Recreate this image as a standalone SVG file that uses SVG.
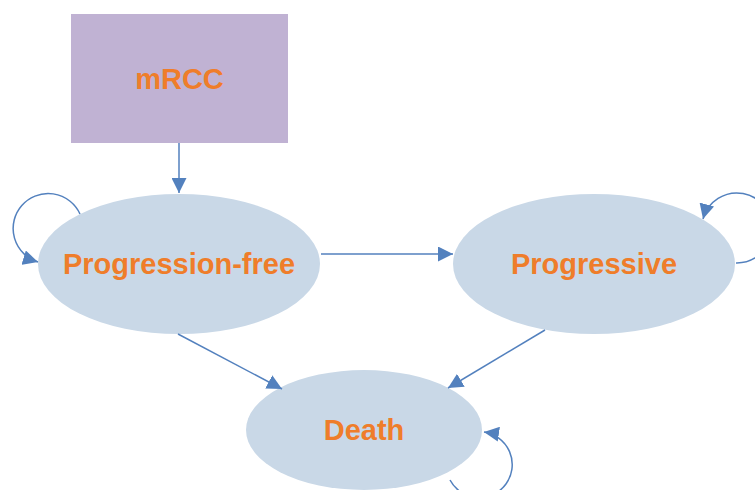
<svg xmlns="http://www.w3.org/2000/svg" width="755" height="490" viewBox="0 0 755 490">
<style>
.node{fill:#c9d8e7}
.lbl{font-family:"Liberation Sans",Arial,sans-serif;font-weight:bold;font-size:29px;fill:#ef7d2a;text-anchor:middle;dominant-baseline:central}
.edge{fill:none;stroke:#5381be;stroke-width:1.5}
</style>
<defs>
<marker id="ah" viewBox="0 0 10 10" refX="10" refY="5" markerWidth="15" markerHeight="15" markerUnits="userSpaceOnUse" orient="auto">
<path d="M0,0 L10,5 L0,10 z" fill="#5381be"/>
</marker>
</defs>
<rect width="755" height="490" fill="#ffffff"/>
<g id="mrcc">
<rect x="71" y="14" width="217" height="129" fill="#c0b2d3"/>
<text class="lbl" x="179.5" y="79">mRCC</text>
</g>
<g id="progression-free">
<ellipse class="node" cx="179" cy="264" rx="141" ry="70"/>
<text class="lbl" x="179" y="264">Progression-free</text>
</g>
<g id="progressive">
<ellipse class="node" cx="594" cy="264" rx="141" ry="70"/>
<text class="lbl" x="594" y="264">Progressive</text>
</g>
<g id="death">
<ellipse class="node" cx="364" cy="430" rx="118" ry="60"/>
<text class="lbl" x="364" y="430">Death</text>
</g>
<g id="connectors">
<line class="edge" x1="179" y1="143" x2="179" y2="193" marker-end="url(#ah)"/>
<line class="edge" x1="321" y1="254" x2="453" y2="254" marker-end="url(#ah)"/>
<line class="edge" x1="178" y1="334" x2="282" y2="389" marker-end="url(#ah)"/>
<line class="edge" x1="545" y1="330" x2="448" y2="388" marker-end="url(#ah)"/>
<path class="edge" d="M80,214 A35,35 0 1 0 38,262" marker-end="url(#ah)"/>
<path class="edge" d="M736,263 A35,35 0 1 0 703,219" marker-end="url(#ah)"/>
<path class="edge" d="M450,480 A33,33 0 1 0 484,432" marker-end="url(#ah)"/>
</g>
</svg>
